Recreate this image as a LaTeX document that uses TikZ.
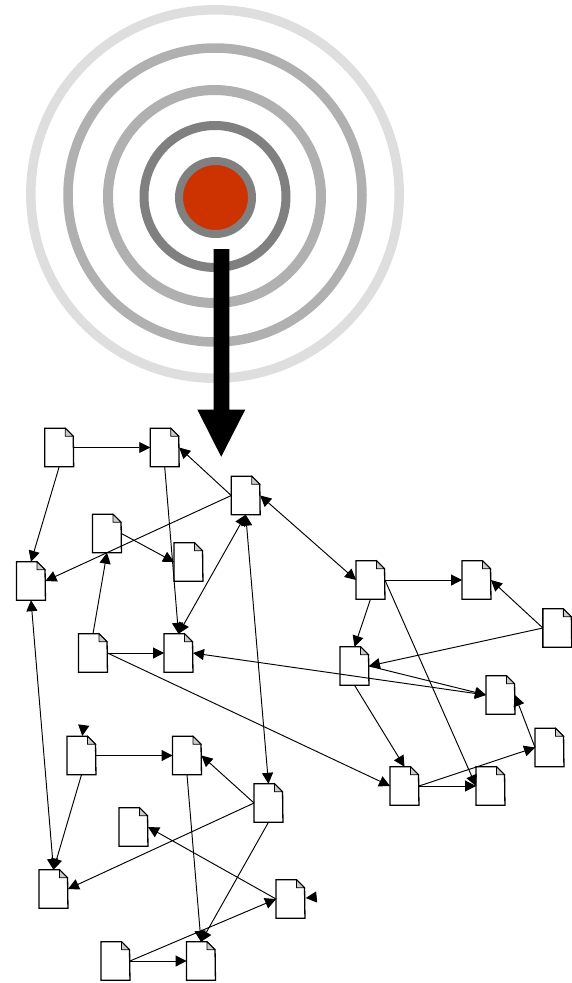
\documentclass[tikz,border=0pt]{standalone}
\usetikzlibrary{arrows.meta}
\definecolor{ringdark}{HTML}{808080}
\definecolor{ringmid}{HTML}{B0B0B0}
\definecolor{ringlight}{HTML}{DEDEDE}
\definecolor{target}{HTML}{CC3300}
\definecolor{foldgray}{HTML}{CCCCCC}
\tikzset{
  docbox/.style={rectangle,inner sep=0pt,minimum width=28.5pt,minimum height=38pt},
  docline/.style={draw=black,line width=1.3pt,line join=miter},
  link/.style={draw=black,line width=0.95pt,-{Triangle[length=11pt,width=11pt]}},
  duplex/.style={draw=black,line width=0.95pt,{Triangle[length=11pt,width=11pt]}-{Triangle[length=11pt,width=11pt]}},
  ring/.style={line width=#1}
}
\newcommand{\docicon}[3]{%
  \node[docbox] (#1) at (#2,#3) {};
  \path[docline,fill=white] (#1.north west) -- ++(20.5,0) -- ++(8,8) -- (#1.south east) -- (#1.south west) -- cycle;
  \path[docline,fill=foldgray,line width=0.8pt] (#1.north west) ++(20.5,0) -- ++(8,8) -- ++(-8,0) -- cycle;
}
\begin{document}
\begin{tikzpicture}[x=1pt,y=-1pt]
\useasboundingbox (0,0) rectangle (572,983);
% rings
\draw[ringlight,ring=9.5pt] (215,194) circle[radius=184.2];
\draw[ringmid,ring=9.5pt] (215,195) circle[radius=147];
\draw[ringmid,ring=10pt] (214.5,196.5) circle[radius=106.5];
\draw[ringdark,ring=9pt] (215,196.5) circle[radius=71];
\draw[ringdark,ring=8pt,fill=target] (215.5,197.5) circle[radius=36.5];
% big arrow
\fill[black] (213.5,249) -- (229.3,249) -- (229.3,409.5) -- (245.3,409.5) -- (221.2,456.8) -- (197.3,409.5) -- (213.5,409.5) -- cycle;
% documents
\docicon{A}{59.2}{447.5}
\docicon{B}{164.7}{447.5}
\docicon{C}{245.7}{495.5}
\docicon{D}{107}{533.5}
\docicon{E}{188.5}{562}
\docicon{F}{31}{581}
\docicon{G}{93}{653}
\docicon{H}{178.5}{653}
\docicon{I}{81.5}{755.5}
\docicon{J}{187}{755.5}
\docicon{K}{268.5}{803}
\docicon{L}{133.5}{827}
\docicon{M}{53.5}{889}
\docicon{N}{290.5}{899}
\docicon{O}{115.5}{961}
\docicon{P}{201}{961}
\docicon{Q}{370.5}{580}
\docicon{R}{476.5}{580}
\docicon{S}{557.3}{628}
\docicon{T}{354.5}{666}
\docicon{U}{500.5}{695}
\docicon{V}{549.5}{747.5}
\docicon{W}{404.5}{786}
\docicon{X}{490.5}{786}
\coordinate (stubI) at (83.7,725.5);
\coordinate (stubItip) at (82.3,736);
\coordinate (stubN) at (316.7,897);
\coordinate (stubNtip) at (305.7,898);
% connectors
\draw[link] (A.east) -- (B.west);
\draw[link] (A.south) -- (F.north);
\draw[link] (C.west) -- (B.east);
\draw[link] (C.west) -- (F.east);
\draw[link] (B.south) -- (H.north);
\draw[link] (D.east) -- (E.west);
\draw[link] (G.north) -- (D.south);
\draw[link] (G.east) -- (H.west);
\draw[link] (G.east) -- (W.west);
\draw[duplex] (C.south) -- (H.north);
\draw[duplex] (C.south) -- (K.north);
\draw[duplex] (C.east) -- (Q.west);
\draw[duplex] (H.east) -- (U.west);
\draw[duplex] (F.south) -- (M.north);
\draw[link] (Q.east) -- (R.west);
\draw[link] (Q.south) -- (T.north);
\draw[link] (Q.east) -- (X.west);
\draw[link] (T.south) -- (W.north);
\draw[link] (T.east) -- (U.west);
\draw[link] (S.west) -- (R.east);
\draw[link] (S.west) -- (T.east);
\draw[link] (V.west) -- (U.east);
\draw[link] (W.east) -- (V.west);
\draw[link] (W.east) -- (X.west);
\draw[link] (I.east) -- (J.west);
\draw[link] (I.south) -- (M.north);
\draw[link] (K.west) -- (J.east);
\draw[link] (K.west) -- (M.east);
\draw[link] (J.south) -- (P.north);
\draw[link] (K.south) -- (P.north);
\draw[link] (N.west) -- (L.east);
\draw[link] (O.east) -- (N.west);
\draw[link] (O.east) -- (P.west);
\draw[link] (stubI) -- (stubItip);
\draw[link] (stubN) -- (stubNtip);
\end{tikzpicture}
\end{document}
